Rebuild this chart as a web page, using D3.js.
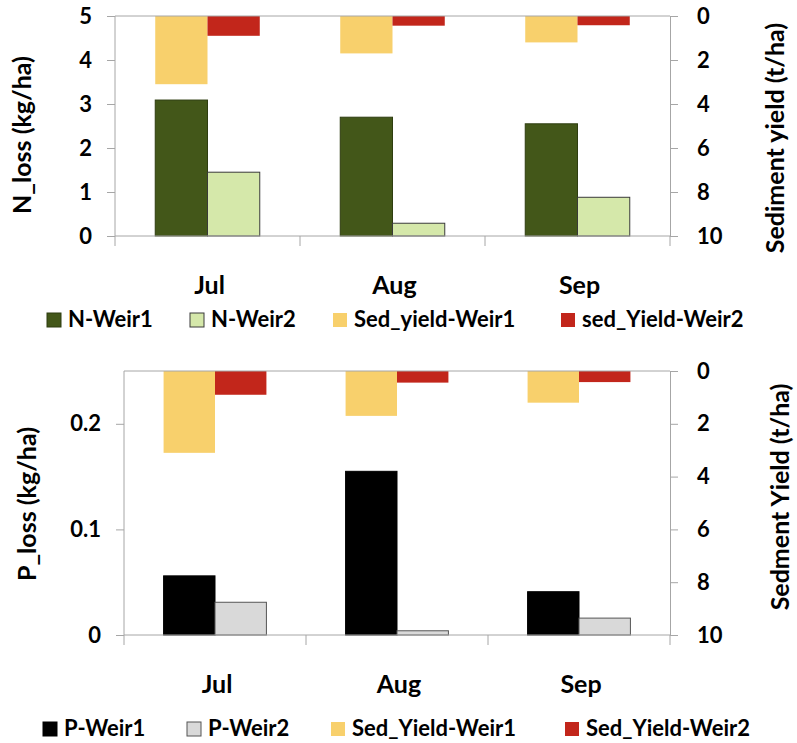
<!DOCTYPE html>
<html>
<head>
<meta charset="utf-8">
<script src="https://cdn.jsdelivr.net/npm/d3@7"></script>
<style>
  body { margin: 0; background: #fff; }
  svg text { font-family: Lato, "Open Sans", sans-serif; fill: #000; font-weight: 700; }
</style>
</head>
<body>
<svg id="chart" width="797" height="743"></svg>
<script>
// Monthly nutrient losses and sediment yield at two weirs
const months = ["Jul", "Aug", "Sep"];
const nWeir1 = [3.09, 2.70, 2.55];
const nWeir2 = [1.45, 0.29, 0.88];
const pWeir1 = [0.056, 0.155, 0.041];
const pWeir2 = [0.031, 0.004, 0.016];
const sedWeir1 = [3.1, 1.7, 1.2];
const sedWeir2 = [0.9, 0.44, 0.42];

const nTicks = [0, 1, 2, 3, 4, 5];
const pTicks = [0, 0.1, 0.2];
const sedTicks = [0, 2, 4, 6, 8, 10];

const nLegend = ["N-Weir1", "N-Weir2", "Sed_yield-Weir1", "sed_Yield-Weir2"];
const pLegend = ["P-Weir1", "P-Weir2", "Sed_Yield-Weir1", "Sed_Yield-Weir2"];

const svg = d3.select("#chart");
const axisGrey = "#a6a6a6";

function panel(cfg) {
  const g = svg.append("g");
  const x = d3.scaleBand().domain(months).range([cfg.left, cfg.right]).padding(0);
  const sub = d3.scaleBand().domain([0, 1]).range([0, x.bandwidth()]).paddingOuter(0.77).paddingInner(0);
  const y = d3.scaleLinear().domain([0, cfg.yMax]).range([cfg.bottom, cfg.top]);
  const y2 = d3.scaleLinear().domain([0, 10]).range([cfg.top, cfg.bottom]);

  // primary bars (nutrient loss), drawn from the baseline up
  cfg.primary.forEach((vals, i) => {
    g.append("g").selectAll("rect").data(vals).join("rect")
      .attr("x", (d, j) => x(months[j]) + sub(i))
      .attr("width", sub.bandwidth())
      .attr("y", d => y(d))
      .attr("height", d => cfg.bottom - y(d))
      .attr("fill", cfg.colors[i])
      .attr("stroke", cfg.strokes[i])
      .attr("stroke-width", 1);
  });

  // secondary bars (sediment yield), hanging from the reversed right axis
  [sedWeir1, sedWeir2].forEach((vals, i) => {
    g.append("g").selectAll("rect").data(vals).join("rect")
      .attr("x", (d, j) => x(months[j]) + sub(i))
      .attr("width", sub.bandwidth())
      .attr("y", cfg.top)
      .attr("height", d => y2(d) - cfg.top)
      .attr("fill", cfg.colors[i + 2]);
  });

  // left value axis
  const ax = g.append("g").attr("transform", `translate(${cfg.left},0)`)
    .call(d3.axisLeft(y).tickValues(cfg.ticks).tickFormat(cfg.fmt).tickSize(8).tickPadding(15).tickSizeOuter(0));
  ax.select(".domain").attr("stroke", axisGrey).attr("d", `M0,${cfg.top}V${cfg.bottom}`);
  ax.selectAll(".tick line").attr("stroke", axisGrey);
  ax.selectAll(".tick text").style("font-size", "22px").attr("fill", "#000");

  // right (reversed) value axis
  const ar = g.append("g").attr("transform", `translate(${cfg.right},0)`)
    .call(d3.axisRight(y2).tickValues(sedTicks).tickSize(8).tickPadding(19).tickSizeOuter(0));
  ar.select(".domain").attr("stroke", axisGrey);
  ar.selectAll(".tick line").attr("stroke", axisGrey);
  ar.selectAll(".tick text").style("font-size", "22px").attr("fill", "#000");

  // category axis with tick marks between months
  const ab = g.append("g").attr("transform", `translate(0,${cfg.bottom})`);
  ab.append("line").attr("x1", cfg.left).attr("x2", cfg.right).attr("stroke", axisGrey);
  const bounds = months.map(m => x(m)).concat([cfg.right]);
  ab.selectAll("line.tk").data(bounds).join("line").attr("class", "tk")
    .attr("x1", d => d).attr("x2", d => d).attr("y1", 0).attr("y2", 10).attr("stroke", axisGrey);
  // top crossing line of the secondary category axis
  g.append("line").attr("x1", cfg.left).attr("x2", cfg.right)
    .attr("y1", cfg.top).attr("y2", cfg.top).attr("stroke", axisGrey);

  g.selectAll("text.cat").data(months).join("text").attr("class", "cat")
    .attr("x", d => x(d) + x.bandwidth() / 2 + 2)
    .attr("y", cfg.catY)
    .attr("text-anchor", "middle")
    .style("font-size", "25px")
    .text(d => d);

  // axis titles
  g.append("text")
    .attr("transform", `translate(${cfg.lTitleX},${cfg.lTitleY}) rotate(-90)`)
    .attr("text-anchor", "middle").attr("dy", "0.35em")
    .style("font-size", "25px").text(cfg.lTitle);
  g.append("text")
    .attr("transform", `translate(${cfg.rTitleX},${cfg.rTitleY}) rotate(-90)`)
    .attr("text-anchor", "middle").attr("dy", "0.35em")
    .style("font-size", "25px").text(cfg.rTitle);

  // legend
  const lg = g.append("g");
  cfg.legend.forEach((label, i) => {
    const lx = cfg.legendX[i];
    lg.append("rect").attr("x", lx).attr("y", cfg.legendY - 14).attr("width", 14).attr("height", 14)
      .attr("fill", cfg.colors[i])
      .attr("stroke", i < 2 ? cfg.strokes[i] : "none");
    lg.append("text").attr("x", lx + 21).attr("y", cfg.legendY)
      .style("font-size", "22px").text(label);
  });
}

panel({
  left: 115, right: 670, top: 16, bottom: 236, yMax: 5,
  ticks: nTicks, fmt: d3.format("d"),
  primary: [nWeir1, nWeir2],
  colors: ["#435719", "#d5e8aa", "#f8d06c", "#c2261b"],
  strokes: ["#2e3d10", "#3a3a3a"],
  catY: 294,
  lTitle: "N_loss (kg/ha)", lTitleX: 22, lTitleY: 135,
  rTitle: "Sediment yield (t/ha)", rTitleX: 775, rTitleY: 138,
  legend: nLegend, legendX: [47, 190, 333, 561], legendY: 327
});

panel({
  left: 124, right: 670, top: 371, bottom: 635, yMax: 0.25,
  ticks: pTicks, fmt: d => d === 0 ? "0" : d3.format(".1f")(d),
  primary: [pWeir1, pWeir2],
  colors: ["#000000", "#d9d9d9", "#f8d06c", "#c2261b"],
  strokes: ["#000000", "#555555"],
  catY: 693,
  lTitle: "P_loss (kg/ha)", lTitleX: 27, lTitleY: 504,
  rTitle: "Sedment Yield (t/ha)", rTitleX: 780, rTitleY: 497,
  legend: pLegend, legendX: [43, 187, 331, 565], legendY: 736
});
</script>
</body>
</html>
